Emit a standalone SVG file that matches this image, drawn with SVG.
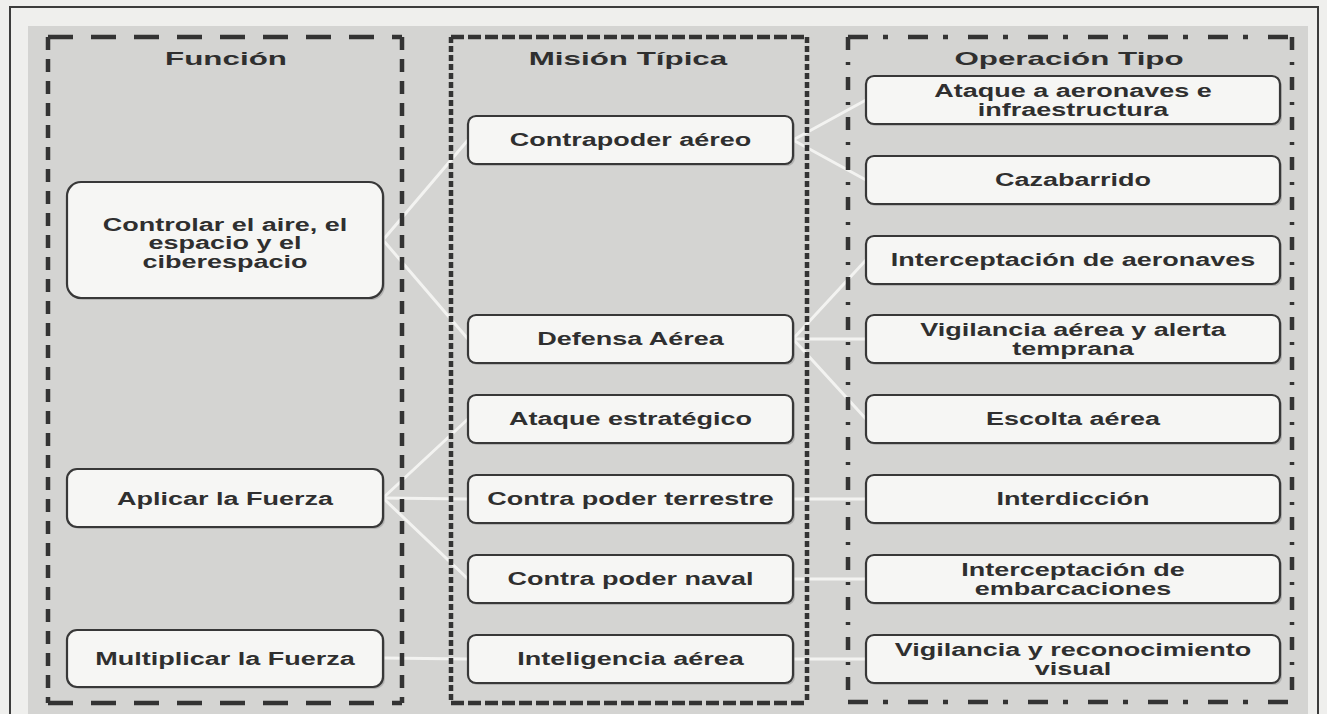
<svg xmlns="http://www.w3.org/2000/svg" width="1327" height="714" viewBox="0 0 1327 714">
<style>
.page{fill:#efefed}
.panel{fill:#d4d4d2}
.frame{fill:none;stroke:#3c3c3c;stroke-width:2}
.col{fill:none;stroke:#333;stroke-width:4.5}
.c1h{stroke-dasharray:25 18}
.c1v{stroke-dasharray:13 9}
.c2h{stroke-dasharray:13 4}
.c2v{stroke-dasharray:6 3}
.c3h{stroke-dasharray:20 15 5 20}
.c3v{stroke-dasharray:13 12 3 12}
.box{fill:#f6f6f4;stroke:#383838;stroke-width:2.2}
.shadow{fill:#8a8a8a;opacity:0.45}
.conn line{stroke:#f3f3f1;stroke-width:3;stroke-linecap:round}
.t{font-family:"Liberation Sans",Arial,sans-serif;font-weight:bold;font-size:18.5px;fill:#2f2f2f;text-anchor:middle}
.h{font-family:"Liberation Sans",Arial,sans-serif;font-weight:bold;font-size:19px;fill:#2f2f2f;text-anchor:middle}
</style>
<rect class="page" x="0" y="0" width="1327" height="714"/>
<rect class="panel" x="28" y="26" width="1280" height="690"/>
<path class="frame" d="M10,714 V7 H1318 V714"/>

<g id="connectors" class="conn">
  <line x1="383" y1="240" x2="468" y2="140"/>
  <line x1="383" y1="240" x2="468" y2="339"/>
  <line x1="383" y1="498" x2="468" y2="419"/>
  <line x1="383" y1="498" x2="468" y2="499"/>
  <line x1="383" y1="498" x2="468" y2="579"/>
  <line x1="383" y1="658" x2="468" y2="659"/>
  <line x1="793" y1="140" x2="866" y2="100"/>
  <line x1="793" y1="140" x2="866" y2="180"/>
  <line x1="793" y1="339" x2="866" y2="260"/>
  <line x1="793" y1="339" x2="866" y2="339"/>
  <line x1="793" y1="339" x2="866" y2="419"/>
  <line x1="793" y1="499" x2="866" y2="499"/>
  <line x1="793" y1="579" x2="866" y2="579"/>
  <line x1="793" y1="659" x2="866" y2="659"/>
</g>

<g id="col-funcion">
  <line class="col c1h" x1="48" y1="37" x2="402" y2="37"/>
  <line class="col c1h" x1="48" y1="703" x2="402" y2="703"/>
  <line class="col c1v" x1="48" y1="37" x2="48" y2="703"/>
  <line class="col c1v" x1="402" y1="37" x2="402" y2="703"/>
  <g transform="translate(226 0) scale(1.65 1)"><text class="h" x="0" y="65">Función</text></g>
</g>
<g id="col-mision">
  <line class="col c2h" x1="451" y1="37" x2="807" y2="37"/>
  <line class="col c2h" x1="451" y1="703" x2="807" y2="703"/>
  <line class="col c2v" x1="451" y1="37" x2="451" y2="703"/>
  <line class="col c2v" x1="807" y1="37" x2="807" y2="703"/>
  <g transform="translate(628 0) scale(1.65 1)"><text class="h" x="0" y="65">Misión Típica</text></g>
</g>
<g id="col-operacion">
  <line class="col c3h" x1="848" y1="37" x2="1292" y2="37"/>
  <line class="col c3h" x1="848" y1="702" x2="1292" y2="702"/>
  <line class="col c3v" x1="848" y1="37" x2="848" y2="702"/>
  <line class="col c3v" x1="1292" y1="37" x2="1292" y2="702"/>
  <g transform="translate(1069 0) scale(1.65 1)"><text class="h" x="0" y="65">Operación Tipo</text></g>
</g>

<!-- Función nodes -->
<g id="f-controlar">
  <rect class="shadow" x="69" y="184" width="316" height="116" rx="14"/>
  <rect class="box" x="67" y="182" width="316" height="116" rx="14"/>
  <g transform="translate(225 0) scale(1.46 1)"><text class="t" y="231"><tspan x="0">Controlar el aire, el</tspan><tspan x="0" dy="18.5">espacio y el</tspan><tspan x="0" dy="18.5">ciberespacio</tspan></text></g>
</g>
<g id="f-aplicar">
  <rect class="shadow" x="69" y="471" width="316" height="58" rx="10"/>
  <rect class="box" x="67" y="469" width="316" height="58" rx="10"/>
  <g transform="translate(225 0) scale(1.46 1)"><text class="t" x="0" y="505">Aplicar la Fuerza</text></g>
</g>
<g id="f-multiplicar">
  <rect class="shadow" x="69" y="632" width="316" height="57" rx="10"/>
  <rect class="box" x="67" y="630" width="316" height="57" rx="10"/>
  <g transform="translate(225 0) scale(1.46 1)"><text class="t" x="0" y="665">Multiplicar la Fuerza</text></g>
</g>

<!-- Misión nodes -->
<g id="m-contrapoder">
  <rect class="shadow" x="470" y="118" width="325" height="48" rx="8"/>
  <rect class="box" x="468" y="116" width="325" height="48" rx="8"/>
  <g transform="translate(630.5 0) scale(1.46 1)"><text class="t" x="0" y="146.5">Contrapoder aéreo</text></g>
</g>
<g id="m-defensa">
  <rect class="shadow" x="470" y="317" width="325" height="48" rx="8"/>
  <rect class="box" x="468" y="315" width="325" height="48" rx="8"/>
  <g transform="translate(630.5 0) scale(1.46 1)"><text class="t" x="0" y="345.5">Defensa Aérea</text></g>
</g>
<g id="m-ataque">
  <rect class="shadow" x="470" y="397" width="325" height="48" rx="8"/>
  <rect class="box" x="468" y="395" width="325" height="48" rx="8"/>
  <g transform="translate(630.5 0) scale(1.46 1)"><text class="t" x="0" y="425.5">Ataque estratégico</text></g>
</g>
<g id="m-terrestre">
  <rect class="shadow" x="470" y="477" width="325" height="48" rx="8"/>
  <rect class="box" x="468" y="475" width="325" height="48" rx="8"/>
  <g transform="translate(630.5 0) scale(1.46 1)"><text class="t" x="0" y="505.5">Contra poder terrestre</text></g>
</g>
<g id="m-naval">
  <rect class="shadow" x="470" y="557" width="325" height="48" rx="8"/>
  <rect class="box" x="468" y="555" width="325" height="48" rx="8"/>
  <g transform="translate(630.5 0) scale(1.46 1)"><text class="t" x="0" y="585.5">Contra poder naval</text></g>
</g>
<g id="m-inteligencia">
  <rect class="shadow" x="470" y="637" width="325" height="48" rx="8"/>
  <rect class="box" x="468" y="635" width="325" height="48" rx="8"/>
  <g transform="translate(630.5 0) scale(1.46 1)"><text class="t" x="0" y="665.5">Inteligencia aérea</text></g>
</g>

<!-- Operación nodes -->
<g id="o-ataque">
  <rect class="shadow" x="868" y="78" width="414" height="48" rx="8"/>
  <rect class="box" x="866" y="76" width="414" height="48" rx="8"/>
  <g transform="translate(1073 0) scale(1.46 1)"><text class="t" y="97"><tspan x="0">Ataque a aeronaves e</tspan><tspan x="0" dy="19">infraestructura</tspan></text></g>
</g>
<g id="o-cazabarrido">
  <rect class="shadow" x="868" y="158" width="414" height="48" rx="8"/>
  <rect class="box" x="866" y="156" width="414" height="48" rx="8"/>
  <g transform="translate(1073 0) scale(1.46 1)"><text class="t" x="0" y="186.5">Cazabarrido</text></g>
</g>
<g id="o-interceptacion-aeronaves">
  <rect class="shadow" x="868" y="238" width="414" height="48" rx="8"/>
  <rect class="box" x="866" y="236" width="414" height="48" rx="8"/>
  <g transform="translate(1073 0) scale(1.46 1)"><text class="t" x="0" y="266.5">Interceptación de aeronaves</text></g>
</g>
<g id="o-vigilancia-alerta">
  <rect class="shadow" x="868" y="317" width="414" height="48" rx="8"/>
  <rect class="box" x="866" y="315" width="414" height="48" rx="8"/>
  <g transform="translate(1073 0) scale(1.46 1)"><text class="t" y="336"><tspan x="0">Vigilancia aérea y alerta</tspan><tspan x="0" dy="19">temprana</tspan></text></g>
</g>
<g id="o-escolta">
  <rect class="shadow" x="868" y="397" width="414" height="48" rx="8"/>
  <rect class="box" x="866" y="395" width="414" height="48" rx="8"/>
  <g transform="translate(1073 0) scale(1.46 1)"><text class="t" x="0" y="425.5">Escolta aérea</text></g>
</g>
<g id="o-interdiccion">
  <rect class="shadow" x="868" y="477" width="414" height="48" rx="8"/>
  <rect class="box" x="866" y="475" width="414" height="48" rx="8"/>
  <g transform="translate(1073 0) scale(1.46 1)"><text class="t" x="0" y="505.5">Interdicción</text></g>
</g>
<g id="o-interceptacion-embarcaciones">
  <rect class="shadow" x="868" y="557" width="414" height="48" rx="8"/>
  <rect class="box" x="866" y="555" width="414" height="48" rx="8"/>
  <g transform="translate(1073 0) scale(1.46 1)"><text class="t" y="576"><tspan x="0">Interceptación de</tspan><tspan x="0" dy="19">embarcaciones</tspan></text></g>
</g>
<g id="o-vigilancia-reconocimiento">
  <rect class="shadow" x="868" y="637" width="414" height="48" rx="8"/>
  <rect class="box" x="866" y="635" width="414" height="48" rx="8"/>
  <g transform="translate(1073 0) scale(1.46 1)"><text class="t" y="656"><tspan x="0">Vigilancia y reconocimiento</tspan><tspan x="0" dy="19">visual</tspan></text></g>
</g>
</svg>
